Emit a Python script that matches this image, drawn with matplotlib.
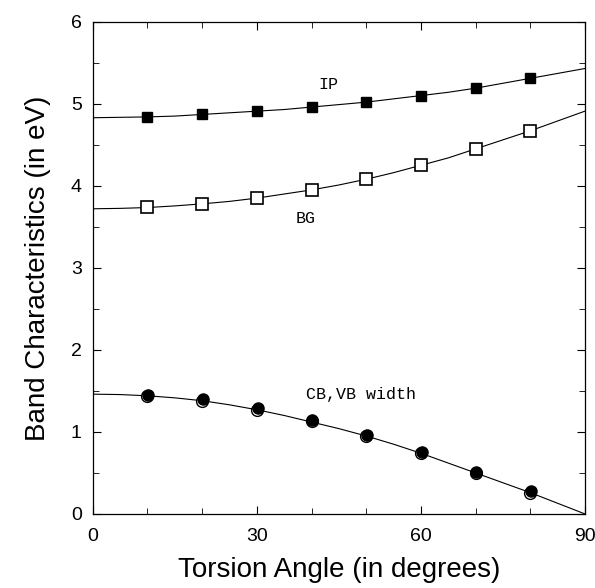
import numpy as np
import matplotlib.pyplot as plt
import matplotlib.transforms as mtransforms
from matplotlib.ticker import MultipleLocator

# measured points
angle = [10, 20, 30, 40, 50, 60, 70, 80]
ip = [4.84, 4.87, 4.91, 4.96, 5.02, 5.10, 5.19, 5.31]
bg = [3.74, 3.78, 3.85, 3.95, 4.08, 4.25, 4.45, 4.67]
cbvb = [1.44, 1.38, 1.27, 1.13, 0.95, 0.74, 0.50, 0.26]

# fitted curves
fit_angle = [0, 5, 10, 15, 20, 25, 30, 35, 40, 45, 50, 55, 60, 65, 70, 75, 80, 85, 90]
ip_fit = [4.83, 4.835, 4.84, 4.85, 4.87, 4.89, 4.91, 4.93, 4.96, 4.99, 5.02,
          5.06, 5.10, 5.14, 5.19, 5.25, 5.31, 5.37, 5.43]
bg_fit = [3.72, 3.725, 3.735, 3.755, 3.78, 3.81, 3.85, 3.90, 3.95, 4.01, 4.08,
          4.16, 4.25, 4.34, 4.45, 4.56, 4.67, 4.79, 4.91]
cbvb_fit = [1.46, 1.455, 1.44, 1.415, 1.38, 1.33, 1.27, 1.20, 1.12, 1.04, 0.95,
            0.85, 0.74, 0.62, 0.50, 0.38, 0.26, 0.13, 0.0]

fig = plt.figure(figsize=(5.95, 5.88), dpi=100)
ax = fig.add_axes([0.156, 0.126, 0.827, 0.837])

ax.plot(fit_angle, ip_fit, color='k', lw=0.8)
ax.plot(fit_angle, bg_fit, color='k', lw=0.8)
ax.plot(fit_angle, cbvb_fit, color='k', lw=0.8)

ax.plot(angle, ip, 's', ms=7.5, mfc='k', mec='k', ls='none')
ax.plot(angle, bg, 's', ms=8.5, mfc='white', mec='k', mew=1.2, ls='none')

# CB and VB widths nearly coincide: open circle under a shifted filled one
ax.plot(angle, cbvb, 'o', ms=8.5, mfc='white', mec='k', mew=1.0, ls='none')
shift = mtransforms.ScaledTranslation(0.6 / 72, 0.9 / 72, fig.dpi_scale_trans)
ax.plot(angle, cbvb, 'o', ms=8, mfc='k', mec='k', ls='none',
        transform=ax.transData + shift)

mono = 'Liberation Mono'
ax.text(43.0, 5.23, 'IP', family=mono, fontsize=12, ha='center', va='center')
ax.text(39.0, 3.60, 'BG', family=mono, fontsize=12, ha='center', va='center')
ax.text(49.0, 1.45, 'CB,VB width', family=mono, fontsize=12, ha='center', va='center')

ax.set_xlim(0, 90)
ax.set_ylim(0, 6)
ax.xaxis.set_major_locator(MultipleLocator(30))
ax.xaxis.set_minor_locator(MultipleLocator(10))
ax.yaxis.set_major_locator(MultipleLocator(1))
ax.yaxis.set_minor_locator(MultipleLocator(0.5))
ax.tick_params(which='both', direction='in', top=True, right=True,
               labelsize=14)
ax.tick_params(axis='x', pad=10)
ax.tick_params(axis='y', pad=8)
ax.tick_params(which='major', length=6)
ax.tick_params(which='minor', length=4)
for sp in ax.spines.values():
    sp.set_linewidth(0.9)

for lbl in ax.get_xticklabels() + ax.get_yticklabels():
    lbl.set_family('Liberation Sans')

ax.set_xlabel('Torsion Angle (in degrees)', family='Liberation Sans', fontsize=20, labelpad=9)
ax.set_ylabel('Band Characteristics (in eV)', family='Liberation Sans', fontsize=20, labelpad=14)

fig.savefig('out.png', dpi=100)
